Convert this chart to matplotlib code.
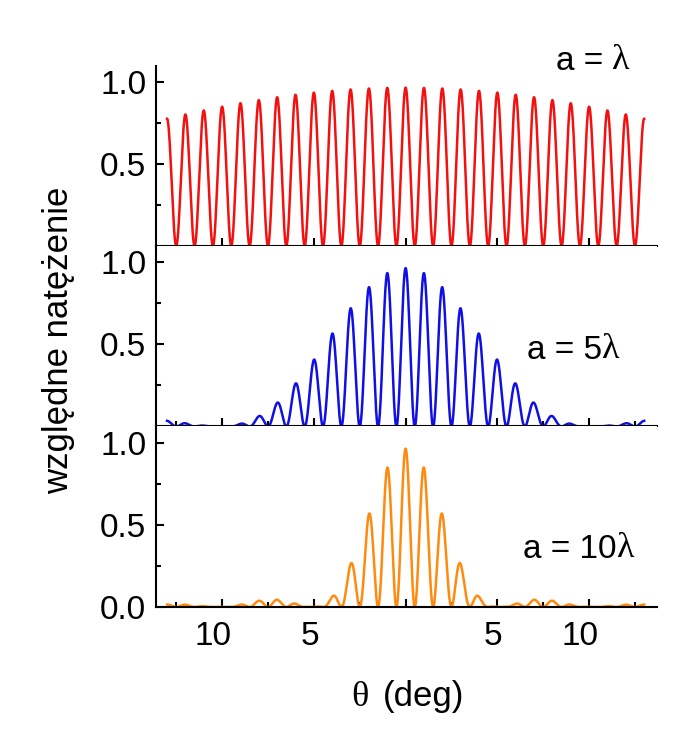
import numpy as np
import matplotlib.pyplot as plt
from matplotlib.ticker import FixedLocator
from matplotlib.transforms import ScaledTranslation

plt.rcParams['font.family'] = ['Liberation Sans', 'DejaVu Sans']

# angle range (deg), slit separation and slit widths (in wavelengths)
theta_min, theta_max = -13, 13
slit_separation = 51
slit_widths = [1, 5, 10]
width_text = ['a = ', 'a = 5', 'a = 10']
peak_height = 0.965

x_ticks = [-10, -5, 0, 5, 10]
x_ticklabels = ['10', '5', '', '5', '10']
colors = ['#f51010', '#1010e6', '#ff8a10']

fig = plt.figure(figsize=(7, 7.53), dpi=100)
left, width, height = 0.2229, 0.7157, 0.2397
bottoms = [0.6733, 0.4336, 0.1939]
text_pos = [(0.798, 0.938), (0.7405, 0.334), (0.7325, 0.232)]

theta = np.linspace(theta_min, theta_max, 4001)
s = theta / slit_separation

axes = []
for i, (a, txt, color) in enumerate(zip(slit_widths, width_text, colors)):
    ax = fig.add_axes([left, bottoms[i], width, height])
    axes.append(ax)
    intensity = peak_height * np.cos(np.pi * slit_separation * s) ** 2 * np.sinc(a * s) ** 2
    ax.plot(theta, intensity, color=color, lw=1.8)
    ax.set_xlim(-13.6, 13.7)
    ax.set_ylim(0, 1.1)
    for side in ['top', 'right']:
        ax.spines[side].set_visible(False)
    for side in ['left', 'bottom']:
        ax.spines[side].set_linewidth(1.5)
    ax.xaxis.set_major_locator(FixedLocator(x_ticks))
    ax.xaxis.set_minor_locator(FixedLocator([-12.5, -7.5, -2.5, 2.5, 7.5, 12.5]))
    if i == 2:
        ax.yaxis.set_major_locator(FixedLocator([0.0, 0.5, 1.0]))
        ax.set_yticklabels(['0.0', '0.5', '1.0'])
        ax.set_xticklabels(x_ticklabels)
    else:
        ax.yaxis.set_major_locator(FixedLocator([0.5, 1.0]))
        ax.set_yticklabels(['0.5', '1.0'])
        ax.set_xticklabels([])
    ax.yaxis.set_minor_locator(FixedLocator([0.25, 0.75]))
    ax.tick_params(which='major', direction='in', length=6, width=1.5,
                   labelsize=24, pad=7)
    ax.tick_params(axis='x', which='major', pad=10)
    ax.tick_params(which='minor', direction='in', length=3.5, width=1.5)

    t = ax.text(text_pos[i][0], text_pos[i][1], txt, transform=ax.transAxes,
                ha='left', va='bottom', fontsize=24)
    ax.annotate('λ', xy=(1, 0), xycoords=t, ha='left', va='bottom',
                fontsize=26, family='Liberation Serif')

# nudge bottom tick labels like the original
ax = axes[2]
for lbl, val in zip(ax.get_xticklabels(), x_ticks):
    dx = -0.09 if abs(val) == 10 else -0.04
    lbl.set_transform(lbl.get_transform() + ScaledTranslation(dx, 0, fig.dpi_scale_trans))

fig.text(0.083, 0.548, 'względne natężenie', rotation=90, ha='center',
         va='center', fontsize=25)
fig.text(369 / 700, 0.0624, 'θ', ha='right', va='baseline', fontsize=26,
         family='Liberation Serif')
fig.text(383 / 700, 0.0624, '(deg)', ha='left', va='baseline', fontsize=25)

fig.savefig('out.png', dpi=100)
